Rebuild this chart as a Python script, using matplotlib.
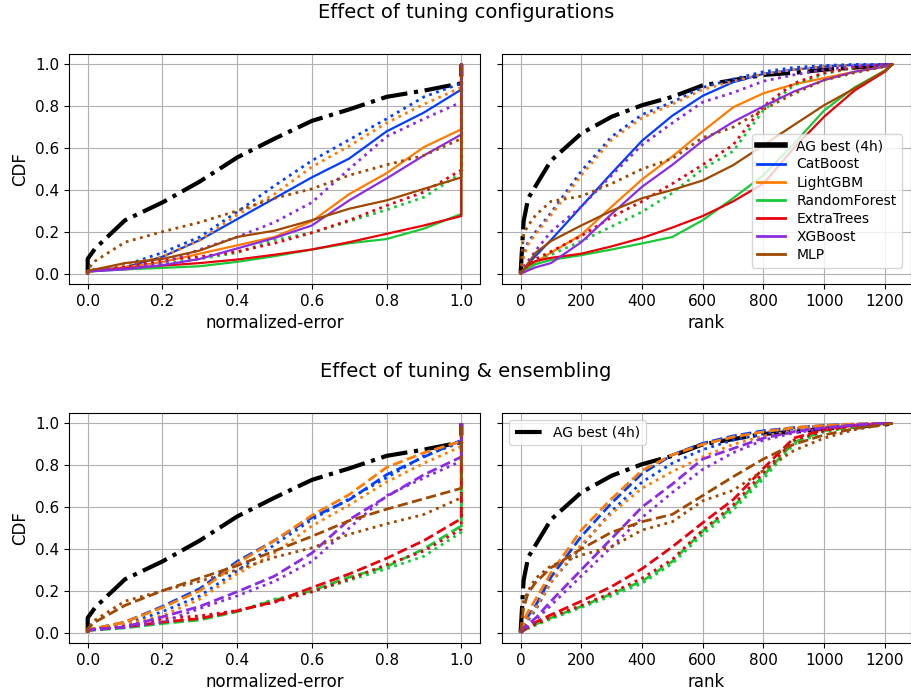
import matplotlib

matplotlib.use("Agg")
import matplotlib.pyplot as plt
from matplotlib.lines import Line2D
import numpy as np


MODELS = ["CatBoost", "LightGBM", "RandomForest", "ExtraTrees", "XGBoost", "MLP"]
COLORS = ["#023eff", "#ff7c00", "#1ac938", "#e8000b", "#8b2be2", "#9f4800"]
BEST_LABEL = "AG best (4h)"

# x positions at which each CDF was read
ERR_GRID = [0.0, 0.02, 0.1, 0.2, 0.3, 0.4, 0.5, 0.6, 0.7, 0.8, 0.9, 1.0]
RANK_GRID = [0, 10, 25, 50, 100, 200, 300, 400, 500, 600, 700, 800, 900, 1000, 1100, 1200, 1225]

best_err = [0.07, 0.12, 0.255, 0.34, 0.44, 0.555, 0.645, 0.73, 0.785, 0.845, 0.875, 0.91]
best_rank = [0.0, 0.25, 0.36, 0.42, 0.54, 0.67, 0.75, 0.805, 0.845, 0.9, 0.925, 0.95, 0.96, 0.975, 0.985, 0.995, 1.0]

# default configuration, normalized-error
default_err = {
    "CatBoost": [0.01, 0.015, 0.03, 0.08, 0.16, 0.26, 0.36, 0.46, 0.55, 0.68, 0.77, 0.88],
    "LightGBM": [0.01, 0.012, 0.03, 0.055, 0.095, 0.135, 0.175, 0.25, 0.38, 0.48, 0.605, 0.69],
    "RandomForest": [0.01, 0.012, 0.02, 0.027, 0.035, 0.056, 0.083, 0.115, 0.145, 0.165, 0.215, 0.285],
    "ExtraTrees": [0.01, 0.013, 0.025, 0.038, 0.05, 0.067, 0.09, 0.115, 0.15, 0.19, 0.23, 0.275],
    "XGBoost": [0.01, 0.012, 0.02, 0.04, 0.07, 0.12, 0.17, 0.23, 0.35, 0.455, 0.565, 0.665],
    "MLP": [0.015, 0.02, 0.05, 0.07, 0.11, 0.175, 0.205, 0.255, 0.31, 0.35, 0.405, 0.46],
}

# tuned, normalized-error
tuned_err = {
    "CatBoost": [0.01, 0.02, 0.04, 0.10, 0.175, 0.295, 0.42, 0.54, 0.64, 0.74, 0.845, 0.91],
    "LightGBM": [0.01, 0.02, 0.04, 0.08, 0.16, 0.28, 0.38, 0.51, 0.61, 0.72, 0.81, 0.89],
    "RandomForest": [0.01, 0.015, 0.025, 0.045, 0.07, 0.10, 0.16, 0.195, 0.25, 0.305, 0.365, 0.48],
    "ExtraTrees": [0.01, 0.015, 0.03, 0.065, 0.08, 0.105, 0.145, 0.195, 0.255, 0.325, 0.39, 0.495],
    "XGBoost": [0.01, 0.015, 0.025, 0.05, 0.115, 0.175, 0.245, 0.34, 0.50, 0.655, 0.74, 0.82],
    "MLP": [0.02, 0.06, 0.15, 0.2, 0.245, 0.30, 0.36, 0.405, 0.47, 0.52, 0.565, 0.645],
}

# tuned + ensembled, normalized-error
ensemble_err = {
    "CatBoost": [0.015, 0.02, 0.05, 0.125, 0.21, 0.34, 0.44, 0.55, 0.635, 0.755, 0.84, 0.92],
    "LightGBM": [0.015, 0.02, 0.05, 0.12, 0.2, 0.33, 0.44, 0.56, 0.66, 0.79, 0.86, 0.915],
    "RandomForest": [0.01, 0.012, 0.022, 0.043, 0.06, 0.1, 0.155, 0.2, 0.265, 0.315, 0.4, 0.51],
    "ExtraTrees": [0.01, 0.015, 0.027, 0.05, 0.067, 0.104, 0.147, 0.215, 0.28, 0.355, 0.44, 0.545],
    "XGBoost": [0.01, 0.015, 0.027, 0.075, 0.125, 0.195, 0.27, 0.38, 0.54, 0.65, 0.755, 0.84],
    "MLP": [0.02, 0.05, 0.13, 0.2, 0.26, 0.32, 0.39, 0.46, 0.535, 0.59, 0.64, 0.69],
}

# rank among default + tuned configurations
default_rank = {
    "CatBoost": [0, 0.02, 0.045, 0.085, 0.16, 0.32, 0.48, 0.635, 0.755, 0.85, 0.915, 0.955, 0.975, 0.99, 0.998, 1.0, 1.0],
    "LightGBM": [0, 0.01, 0.03, 0.055, 0.1, 0.185, 0.32, 0.45, 0.56, 0.68, 0.795, 0.862, 0.905, 0.935, 0.965, 0.99, 1.0],
    "RandomForest": [0, 0.01, 0.025, 0.045, 0.065, 0.088, 0.115, 0.144, 0.175, 0.255, 0.36, 0.47, 0.62, 0.78, 0.89, 0.97, 1.0],
    "ExtraTrees": [0, 0.02, 0.04, 0.06, 0.075, 0.095, 0.13, 0.17, 0.22, 0.275, 0.345, 0.43, 0.6, 0.75, 0.875, 0.965, 1.0],
    "XGBoost": [0, 0.005, 0.015, 0.03, 0.05, 0.15, 0.285, 0.415, 0.52, 0.635, 0.725, 0.8, 0.87, 0.925, 0.965, 0.99, 1.0],
    "MLP": [0, 0.02, 0.05, 0.1, 0.155, 0.23, 0.3, 0.36, 0.4, 0.445, 0.518, 0.614, 0.71, 0.805, 0.885, 0.97, 1.0],
}
tuned_rank = {
    "CatBoost": [0, 0.1, 0.15, 0.2, 0.29, 0.49, 0.655, 0.76, 0.82, 0.89, 0.93, 0.965, 0.985, 0.995, 1.0, 1.0, 1.0],
    "LightGBM": [0, 0.08, 0.14, 0.19, 0.28, 0.47, 0.64, 0.745, 0.81, 0.88, 0.92, 0.955, 0.975, 0.99, 0.995, 1.0, 1.0],
    "RandomForest": [0, 0.015, 0.03, 0.055, 0.09, 0.155, 0.225, 0.295, 0.385, 0.5, 0.585, 0.78, 0.9, 0.955, 0.985, 1.0, 1.0],
    "ExtraTrees": [0, 0.02, 0.04, 0.07, 0.105, 0.18, 0.27, 0.345, 0.43, 0.52, 0.615, 0.8, 0.91, 0.96, 0.985, 1.0, 1.0],
    "XGBoost": [0, 0.03, 0.06, 0.11, 0.2, 0.32, 0.47, 0.615, 0.72, 0.82, 0.865, 0.92, 0.95, 0.975, 0.99, 1.0, 1.0],
    "MLP": [0, 0.19, 0.23, 0.28, 0.345, 0.37, 0.43, 0.5, 0.55, 0.65, 0.7, 0.785, 0.86, 0.925, 0.96, 0.99, 1.0],
}

# rank among tuned + tuned-and-ensembled configurations
tuned_rank_ens = {
    "CatBoost": [0, 0.03, 0.06, 0.11, 0.24, 0.41, 0.58, 0.72, 0.81, 0.875, 0.92, 0.95, 0.975, 0.99, 0.995, 1.0, 1.0],
    "LightGBM": [0, 0.04, 0.07, 0.12, 0.24, 0.42, 0.57, 0.69, 0.77, 0.84, 0.9, 0.94, 0.965, 0.985, 0.995, 1.0, 1.0],
    "RandomForest": [0, 0.01, 0.02, 0.035, 0.065, 0.12, 0.175, 0.235, 0.33, 0.47, 0.585, 0.735, 0.9, 0.96, 0.985, 1.0, 1.0],
    "ExtraTrees": [0, 0.01, 0.025, 0.04, 0.075, 0.13, 0.19, 0.26, 0.35, 0.49, 0.61, 0.765, 0.92, 0.965, 0.99, 1.0, 1.0],
    "XGBoost": [0, 0.015, 0.03, 0.06, 0.13, 0.27, 0.41, 0.55, 0.67, 0.78, 0.86, 0.92, 0.955, 0.975, 0.99, 1.0, 1.0],
    "MLP": [0, 0.15, 0.2, 0.26, 0.32, 0.37, 0.41, 0.49, 0.53, 0.63, 0.68, 0.775, 0.87, 0.93, 0.97, 0.995, 1.0],
}
ensemble_rank = {
    "CatBoost": [0, 0.04, 0.08, 0.13, 0.265, 0.46, 0.62, 0.76, 0.85, 0.905, 0.94, 0.965, 0.98, 0.99, 0.997, 1.0, 1.0],
    "LightGBM": [0, 0.06, 0.1, 0.16, 0.285, 0.49, 0.64, 0.775, 0.85, 0.9, 0.935, 0.96, 0.98, 0.99, 0.997, 1.0, 1.0],
    "RandomForest": [0, 0.01, 0.02, 0.04, 0.07, 0.125, 0.185, 0.245, 0.34, 0.485, 0.6, 0.75, 0.91, 0.965, 0.985, 1.0, 1.0],
    "ExtraTrees": [0, 0.01, 0.03, 0.05, 0.085, 0.15, 0.22, 0.305, 0.41, 0.525, 0.635, 0.785, 0.93, 0.97, 0.99, 1.0, 1.0],
    "XGBoost": [0, 0.02, 0.04, 0.07, 0.15, 0.3, 0.45, 0.6, 0.71, 0.83, 0.88, 0.93, 0.96, 0.98, 0.993, 1.0, 1.0],
    "MLP": [0, 0.12, 0.19, 0.24, 0.31, 0.4, 0.48, 0.53, 0.565, 0.655, 0.745, 0.83, 0.9, 0.945, 0.975, 0.995, 1.0],
}


def _err_curve(values):
    # every method ends at normalized-error 1 with CDF 1
    return [0.0] + ERR_GRID + [1.0], [0.0] + list(values) + [1.0]


def _draw_best(ax, kind):
    if kind == "err":
        xs, ys = _err_curve(best_err)
    else:
        xs, ys = RANK_GRID, best_rank
    ax.plot(xs, ys, color="black", linestyle="-.", linewidth=3, label=BEST_LABEL)


def _draw_models(ax, kind, first, first_style, second, second_style):
    for name, color in zip(MODELS, COLORS):
        for table, style in ((second, second_style), (first, first_style)):
            if kind == "err":
                xs, ys = _err_curve(table[name])
            else:
                xs, ys = RANK_GRID, table[name]
            lw = 1.6 if style == "-" else 2.0
            ax.plot(xs, ys, color=color, linestyle=style, linewidth=lw)


def _style_axes(ax, kind, show_ylabel):
    ax.grid(True, color="#b0b0b0", linewidth=0.8)
    ax.set_axisbelow(True)
    ax.set_ylim(-0.05, 1.05)
    ax.set_yticks([0.0, 0.2, 0.4, 0.6, 0.8, 1.0])
    ax.tick_params(labelsize=11)
    if kind == "err":
        ax.set_xlim(-0.05, 1.05)
        ax.set_xticks([0.0, 0.2, 0.4, 0.6, 0.8, 1.0])
        ax.set_xlabel("normalized-error", fontsize=12)
    else:
        ax.set_xlim(-61.25, 1286.25)
        ax.set_xticks([0, 200, 400, 600, 800, 1000, 1200])
        ax.set_xlabel("rank", fontsize=12)
    if show_ylabel:
        ax.set_ylabel("CDF", fontsize=12)
    else:
        ax.tick_params(labelleft=False)


def main():
    fig = plt.figure(figsize=(9.12, 6.96), dpi=100)
    W, H = 912.0, 696.0

    def box(x0, x1, ytop, ybot):
        return [x0 / W, 1 - ybot / H, (x1 - x0) / W, (ybot - ytop) / H]

    ax_tl = fig.add_axes(box(69, 480, 54, 284))
    ax_tr = fig.add_axes(box(502, 911, 54, 284))
    ax_bl = fig.add_axes(box(69, 480, 413, 643))
    ax_br = fig.add_axes(box(502, 911, 413, 643))

    fig.text(466 / W, 1 - 13 / H, "Effect of tuning configurations", ha="center", va="center", fontsize=14)
    fig.text(466 / W, 1 - 372 / H, "Effect of tuning & ensembling", ha="center", va="center", fontsize=14)

    # top row: default (solid) vs tuned (dotted)
    _draw_best(ax_tl, "err")
    _draw_models(ax_tl, "err", default_err, "-", tuned_err, ":")
    _draw_best(ax_tr, "rank")
    _draw_models(ax_tr, "rank", default_rank, "-", tuned_rank, ":")

    # bottom row: tuned + ensembled (dashed) vs tuned (dotted)
    _draw_best(ax_bl, "err")
    _draw_models(ax_bl, "err", ensemble_err, "--", tuned_err, ":")
    _draw_best(ax_br, "rank")
    _draw_models(ax_br, "rank", ensemble_rank, "--", tuned_rank_ens, ":")

    _style_axes(ax_tl, "err", True)
    _style_axes(ax_tr, "rank", False)
    _style_axes(ax_bl, "err", True)
    _style_axes(ax_br, "rank", False)

    handles = [Line2D([], [], color="black", linewidth=4, label=BEST_LABEL)]
    handles += [Line2D([], [], color=c, linewidth=2, label=m) for m, c in zip(MODELS, COLORS)]
    ax_tr.legend(handles=handles, loc="lower right", bbox_to_anchor=(0.995, 0.04),
                 fontsize=10, labelspacing=0.3)

    ax_br.legend(
        handles=[Line2D([], [], color="black", linestyle="-.", linewidth=3, label=BEST_LABEL)],
        loc="upper left",
        fontsize=10,
    )

    fig.savefig("out.png", dpi=100)
    plt.close(fig)
    return 0


if __name__ == "__main__":
    raise SystemExit(main())
